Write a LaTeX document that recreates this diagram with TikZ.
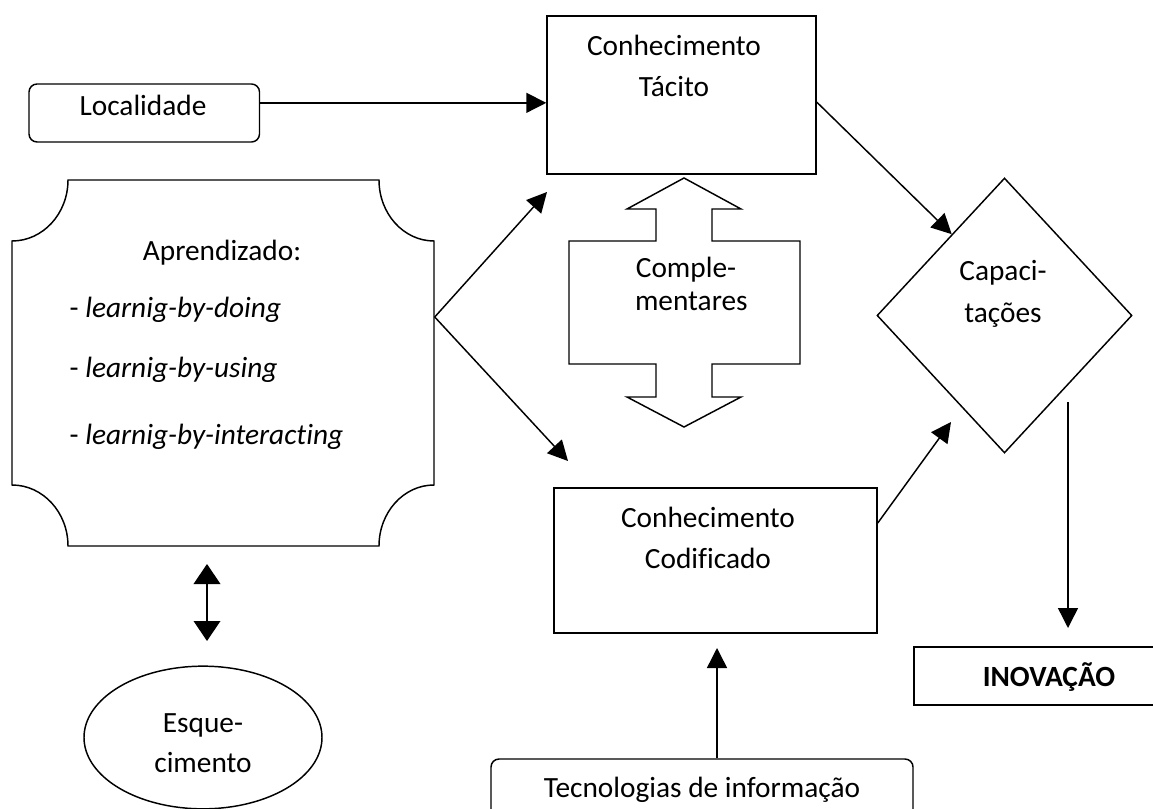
\documentclass[tikz,border=0pt]{standalone}
\usepackage{fontspec}
\setmainfont{Carlito}[Ligatures=NoCommon]
\usetikzlibrary{arrows.meta,shapes.geometric,fit}
\begin{document}
\begin{tikzpicture}[x=0.75pt,y=-0.75pt,line width=1.1pt,
  arr/.style={-{Triangle[length=15pt,width=15pt]}},
  dblarr/.style={{Triangle[length=15pt,width=20pt]}-{Triangle[length=15pt,width=20pt]}},
  frame/.style={draw,inner sep=0pt},
  lbl/.style={inner sep=0pt,align=center,font=\fontsize{22}{30.75}\selectfont},
  lblb/.style={inner sep=0pt,align=center,font=\fontsize{22}{30.75}\selectfont\bfseries}]
\useasboundingbox (0,0) rectangle (1153,809);
\clip (0,0) rectangle (1153,809);

% Localidade
\node[frame,rounded corners=6pt,fit={(29,84)(259.5,142)}] (loc) {};
\node[lbl] (locT) at (143,105) {Localidade};

% Conhecimento Tacito
\node[frame,fit={(547,16)(816,174)}] (tac) {};
\node[lbl] (tacT) at (674,65.5) {Conhecimento\\Tácito};

% Aprendizado plaque
\node[inner sep=0pt,fit={(12,180)(434,546)}] (apr) {};
\draw (68,180) -- (379,180)
  arc[start angle=180,end angle=90,x radius=55,y radius=61] -- (434,485)
  arc[start angle=270,end angle=180,x radius=55,y radius=61] -- (68,546)
  arc[start angle=0,end angle=-90,x radius=56,y radius=61] -- (12,241)
  arc[start angle=90,end angle=0,x radius=56,y radius=61] -- cycle;
\node[lbl] (aprT) at (222,253) {Aprendizado:};
\node[lbl,anchor=west] (aprA) at (69,310) {- \textit{learnig-by-doing}};
\node[lbl,anchor=west] (aprB) at (69,370) {- \textit{learnig-by-using}};
\node[lbl,anchor=west] (aprC) at (69,437) {- \textit{learnig-by-interacting}};

% Complementares double block arrow
\draw (684,178) -- (741,209) -- (712,209) -- (712,241) -- (800,241) -- (800,364)
  -- (712,364) -- (712,397) -- (741,397) -- (684,427) -- (627,397) -- (656,397)
  -- (656,364) -- (569,364) -- (569,241) -- (656,241) -- (656,209) -- (627,209) -- cycle;
\node[lbl,font=\fontsize{22}{24.75}\selectfont] (compT) at (686,283.5) {Comple-\\\hspace*{8pt}mentares};

% Conhecimento Codificado
\node[frame,fit={(554,488)(877,633)}] (cod) {};
\node[lbl] (codT) at (708,538) {Conhecimento\\Codificado};

% Capacitacoes
\node[draw,diamond,inner sep=0pt,minimum width=191.25pt,minimum height=206.25pt] (cap) at (1004.5,315.5) {};
\node[lbl,font=\fontsize{22}{31.5}\selectfont] (capT) at (1003,294) {Capaci-\\tações};

% INOVACAO
\node[frame,fit={(914,647)(1200,705)}] (ino) {};
\node[lblb] (inoT) at (1049,677) {INOVAÇÃO};

% Tecnologias de informacao
\node[frame,rounded corners=6pt,fit={(491,759)(913,880)}] (tec) {};
\node[lbl] (tecT) at (702,790) {Tecnologias de informação};

% Esquecimento
\node[draw,ellipse,inner sep=0pt,minimum width=178.5pt,minimum height=107pt] (esq) at (203,737.5) {};
\node[lbl,font=\fontsize{22}{30}\selectfont] (esqT) at (203,743) {Esque-\\cimento};

% free ends
\coordinate (aprR) at (434,317);
\coordinate (aUp) at (547,192);
\coordinate (aDn) at (568,461);
\coordinate (capIn) at (951,422);
\coordinate (tUp) at (717,648);
\coordinate (dStart) at (1068,402);
\coordinate (dEnd) at (1068,628);
\coordinate (d1) at (207,564);
\coordinate (d2) at (207,641);

% connectors
\draw[arr] (loc.5.5) -- (tac.west |- loc.5.5);
\draw[arr] (apr.east |- aprR) -- (aUp);
\draw[arr] (apr.east |- aprR) -- (aDn);
\draw[arr] (tac.-3.4) -- (cap.123.5);
\draw[arr] (cod.13.4) -- (capIn);
\draw[arr] (tec.north -| tUp) -- (tUp);
\draw[arr] (dStart) -- (dEnd);
\draw[dblarr] (d1) -- (d2);
\end{tikzpicture}
\end{document}
